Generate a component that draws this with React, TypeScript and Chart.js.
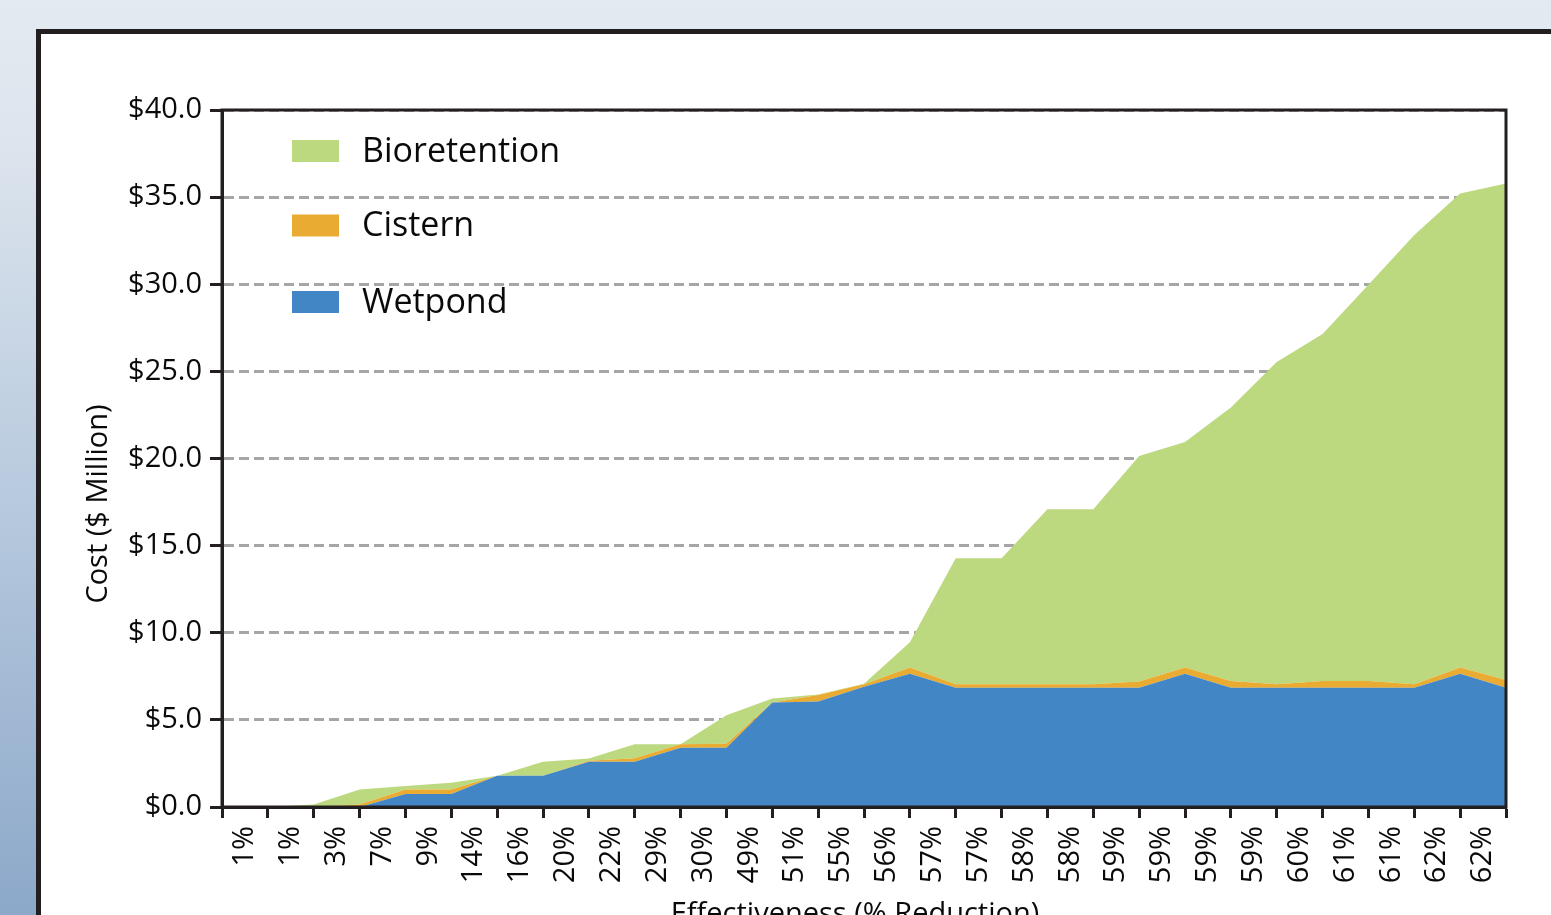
import React, { useEffect, useRef } from "react";
import { Chart, registerables } from "chart.js";

Chart.register(...registerables);

const xLabels = ["1%", "1%", "3%", "7%", "9%", "14%", "16%", "20%", "22%", "29%", "30%", "49%", "51%", "55%", "56%", "57%", "57%", "58%", "58%", "59%", "59%", "59%", "59%", "60%", "61%", "61%", "62%", "62%"];

const wetpond = [0, 0, 0, 0, 0.75, 0.75, 1.8, 1.8, 2.6, 2.6, 3.4, 3.4, 6.0, 6.05, 6.9, 7.65, 6.85, 6.85, 6.85, 6.85, 6.85, 7.65, 6.85, 6.85, 6.85, 6.85, 6.85, 7.65, 6.85];
const cistern = [0, 0, 0, 0.15, 0.25, 0.25, 0, 0, 0.05, 0.2, 0.2, 0.23, 0, 0.38, 0.15, 0.35, 0.2, 0.2, 0.2, 0.2, 0.35, 0.35, 0.38, 0.2, 0.38, 0.38, 0.2, 0.35, 0.44];
const bioretention = [0, 0, 0.15, 0.86, 0.2, 0.39, 0, 0.79, 0.13, 0.8, 0, 1.63, 0.22, 0.02, 0.03, 1.46, 7.22, 7.22, 10.04, 10.04, 12.94, 12.94, 15.69, 18.49, 19.91, 22.74, 25.78, 27.21, 28.49];

const yTicks = [0, 5, 10, 15, 20, 25, 30, 35, 40];

const seriesNames = ["Wetpond", "Cistern", "Bioretention"];
const seriesColors = ["#4286c5", "#e9ab31", "#bcd97f"];

const yTitle = "Cost ($ Million)";
const xTitle = "Effectiveness (% Reduction)";

const FONT = '"Open Sans", "DejaVu Sans", sans-serif';
const INK = "#231f20";
const TEXT = "#0a0a0a";

const frameAndLegend = {
  id: "frameAndLegend",
  afterDatasetsDraw(chart: any) {
    const { ctx, chartArea } = chart;
    const { left, top, right, bottom } = chartArea;
    ctx.save();
    // plot frame
    ctx.strokeStyle = INK;
    ctx.lineWidth = 3;
    ctx.strokeRect(left, top, right - left, bottom - top);
    // legend inside plot
    const ds = chart.data.datasets.slice().reverse();
    const rows = [41, 115.5, 192];
    ctx.font = `34px ${FONT}`;
    ctx.textBaseline = "middle";
    ctx.textAlign = "left";
    ds.forEach((d: any, i: number) => {
      const cy = top + rows[i];
      ctx.fillStyle = d.backgroundColor;
      ctx.fillRect(left + 70, cy - 11, 47, 22);
      ctx.fillStyle = TEXT;
      ctx.fillText(d.label, left + 140, cy + 1);
    });
    // axis titles
    ctx.font = `29px ${FONT}`;
    ctx.fillStyle = TEXT;
    ctx.textAlign = "center";
    ctx.textBaseline = "middle";
    ctx.save();
    ctx.translate(99, 504);
    ctx.rotate(-Math.PI / 2);
    ctx.fillText(yTitle, 0, 0);
    ctx.restore();
    ctx.textBaseline = "alphabetic";
    ctx.fillText(xTitle, 855, 923);
    ctx.restore();
  },
};

export default function App() {
  const ref = useRef<HTMLCanvasElement>(null);

  useEffect(() => {
    if (!ref.current) return;
    const labels = [...xLabels, ""];
    const values = [wetpond, cistern, bioretention];
    const chart = new Chart(ref.current, {
      type: "line",
      data: {
        labels,
        datasets: values.map((v, i) => ({
          label: seriesNames[i],
          data: v,
          backgroundColor: seriesColors[i],
          borderColor: seriesColors[i],
          borderWidth: 0,
          pointRadius: 0,
          tension: 0,
          fill: i === 0 ? "origin" : "-1",
        })),
      },
      options: {
        animation: false,
        responsive: false,
        devicePixelRatio: 1,
        layout: { padding: { top: 110, right: 45, left: 0, bottom: 0 } },
        plugins: {
          legend: { display: false },
          tooltip: { enabled: false },
        },
        scales: {
          x: {
            type: "category",
            offset: false,
            afterFit: (s: any) => {
              s.height = 960 - 807;
            },
            grid: {
              display: true,
              drawOnChartArea: false,
              drawTicks: true,
              tickLength: 11,
              tickColor: INK,
              tickWidth: 3,
              offset: false,
            },
            border: { display: true, color: INK, width: 3 },
            ticks: {
              autoSkip: false,
              minRotation: 90,
              maxRotation: 90,
              labelOffset: 22.9,
              padding: 8,
              color: TEXT,
              font: { family: FONT, size: 29, lineHeight: 1.2 },
              callback: function (this: any, v: any) {
                return this.getLabelForValue(v);
              },
            },
          },
          y: {
            stacked: true,
            min: 0,
            max: 40,
            afterFit: (s: any) => {
              s.width = 222;
            },
            afterBuildTicks: (s: any) => {
              s.ticks = yTicks.map((v) => ({ value: v }));
            },
            grid: {
              color: "#a6a6a6",
              lineWidth: 3,
              drawTicks: true,
              tickLength: 12,
              tickColor: INK,
              tickWidth: 3,
              tickBorderDash: [],
            },
            border: { display: true, color: INK, width: 3, dash: [10, 5] },
            ticks: {
              padding: 8,
              color: TEXT,
              font: { family: FONT, size: 29 },
              callback: (v: any) => "$" + Number(v).toFixed(1),
            },
          },
        },
      },
      plugins: [frameAndLegend],
    });
    return () => chart.destroy();
  }, []);

  return (
    <div
      style={{
        position: "fixed",
        left: 0,
        top: 0,
        width: 1551,
        height: 915,
        overflow: "hidden",
        background: "linear-gradient(to bottom, #e4eaf1 0px, #dce4ed 150px, #b5c8dd 520px, #8ca8c9 915px)",
      }}
    >
      <div
        style={{
          position: "absolute",
          left: 36,
          top: 29,
          width: 1700,
          height: 1100,
          border: `5px solid ${INK}`,
          background: "#fff",
          boxSizing: "border-box",
        }}
      />
      <canvas ref={ref} width={1551} height={960} style={{ position: "absolute", left: 0, top: 0 }} />
    </div>
  );
}
